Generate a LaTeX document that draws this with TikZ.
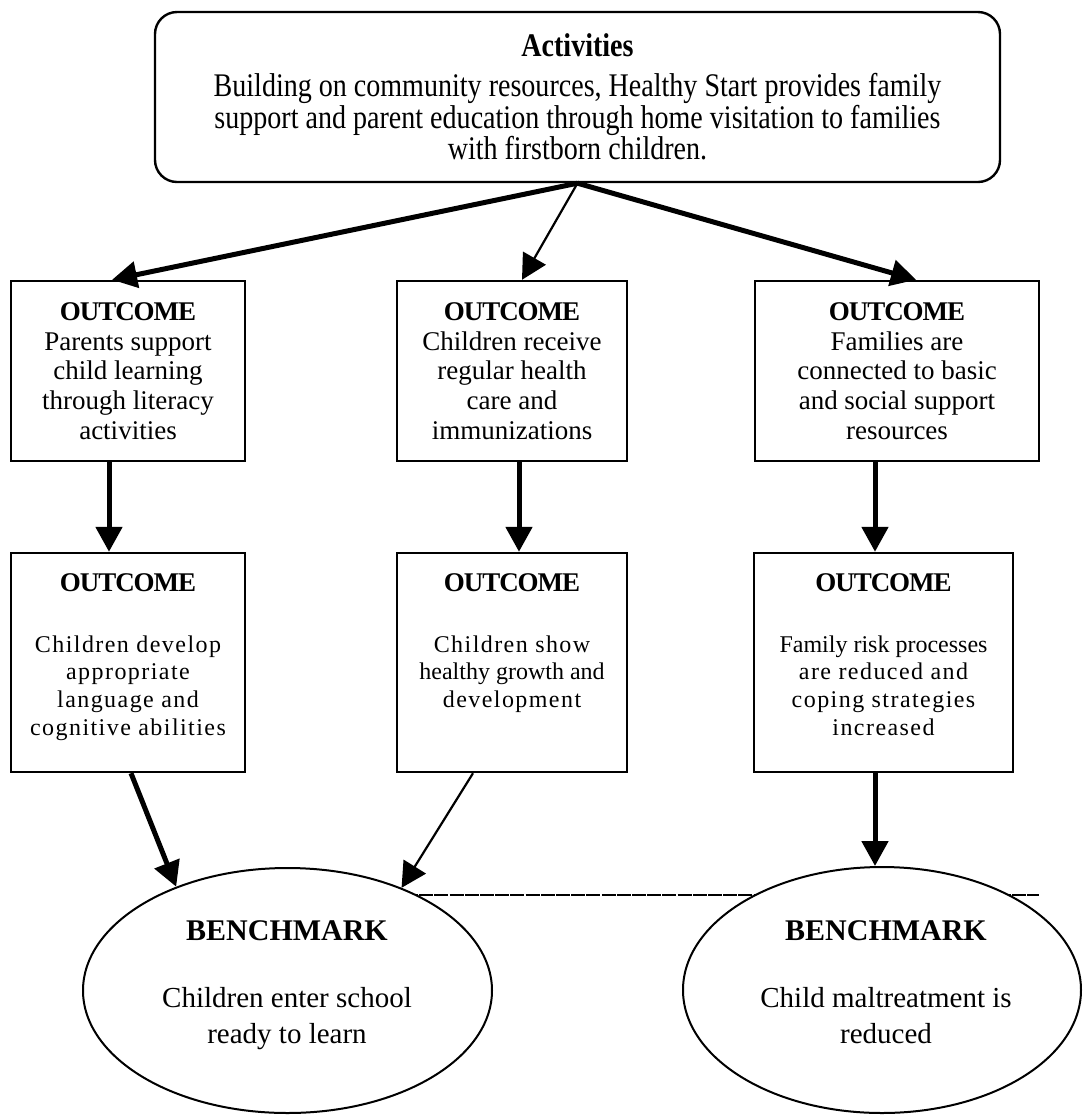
\documentclass[tikz,border=0pt]{standalone}
\usepackage{fontspec}
\setmainfont{Liberation Serif}
\newfontfamily\condfont[FakeStretch=0.85]{Liberation Serif}
\newfontfamily\spfont[LetterSpace=6]{Liberation Serif}
\newcommand\lsp[1]{{\spfont #1}}
\newcommand\hdr[1]{{\fontsize{13.5}{14.8}\selectfont\bfseries\addfontfeature{LetterSpace=-4}#1}}
\usetikzlibrary{arrows.meta,shapes.geometric}
\begin{document}
\begin{tikzpicture}[x=0.5pt,y=-0.5pt,
  topbox/.style={draw,line width=1.2pt,rounded corners=11pt,inner sep=0pt,
    minimum width=422.5pt,minimum height=85pt,align=center,
    font=\condfont\fontsize{16.5}{15.75}\selectfont},
  obox/.style={draw,line width=1.2pt,inner sep=0pt,minimum height=90pt,align=center,
    font=\fontsize{13.5}{14.8}\selectfont},
  pbox/.style={draw,line width=1.2pt,inner sep=0pt,minimum height=109.5pt},
  ptext/.style={anchor=north,inner sep=0pt,align=center,font=\fontsize{12}{13.9}\selectfont},
  bench/.style={ellipse,draw,fill=white,line width=1pt,inner sep=0pt},
  btext/.style={anchor=north,inner sep=0pt,align=center,font=\fontsize{14.5}{18}\selectfont},
  thickarr/.style={line width=2.5pt,-{Triangle[length=12.5pt,width=13pt]}},
  thinarr/.style={line width=1.1pt,-{Triangle[length=12.5pt,width=13pt]}}
]
\useasboundingbox (0,0) rectangle (1083,1115);

% top box
\node[topbox] (act) at (577.5,97) {{\bfseries Activities}\\[4.25pt]
  Building on community resources, Healthy Start provides family\\
  support and parent education through home visitation to families\\
  with firstborn children.};

% outcome row 1
\node[obox,minimum width=117pt] (o1) at (128,371) {\hdr{OUTCOME}\\Parents support\\child learning\\through literacy\\activities};
\node[obox,minimum width=115pt] (o2) at (512,371) {\hdr{OUTCOME}\\Children receive\\regular health\\care and\\immunizations};
\node[obox,minimum width=142pt] (o3) at (897,371) {\hdr{OUTCOME}\\Families are\\connected to basic\\and social support\\resources};

% outcome row 2
\node[pbox,minimum width=117pt] (p1) at (128,662.5) {};
\node[pbox,minimum width=115pt] (p2) at (512,662.5) {};
\node[pbox,minimum width=129.5pt] (p3) at (883.5,662.5) {};
\node[ptext] (p1t) at (128,573) {\hdr{OUTCOME}\\[16.5pt]\lsp{Children develop}\\\lsp{appropriate}\\\lsp{language and}\\\lsp{cognitive abilities}};
\node[ptext] (p2t) at (512,573) {\hdr{OUTCOME}\\[16.5pt]\lsp{Children show}\\healthy growth and\\\lsp{development}};
\node[ptext] (p3t) at (883.5,573) {\hdr{OUTCOME}\\[16.5pt]Family risk processes\\\lsp{are reduced and}\\\lsp{coping strategies}\\\lsp{increased}};

% separator line (underscores)
\coordinate (ulA) at (404,895);
\coordinate (ulB) at (1039,895);
\draw[line width=0.6pt,dash pattern=on 7pt off 0.6pt] (ulA) -- (ulB);

% benchmarks
\node[bench,minimum width=204.5pt,minimum height=122.5pt] (e1) at (287.5,990.5) {};
\node[bench,minimum width=199pt,minimum height=123pt] (e2) at (882,990) {};
\node[btext] (e1t) at (287,920) {{\fontsize{15}{18}\selectfont\bfseries BENCHMARK}\\[15.5pt]Children enter school\\ready to learn};
\node[btext] (e2t) at (886,920) {{\fontsize{15}{18}\selectfont\bfseries BENCHMARK}\\[15.5pt]Child maltreatment is\\reduced};

% connectors
\draw[thickarr] (act.south) -- ([xshift=-8pt]o1.north);
\draw[thinarr]  (act.south) -- ([xshift=5pt]o2.north);
\draw[thickarr] (act.south) -- ([xshift=9.5pt]o3.north);

\draw[thickarr] ([xshift=-9.5pt]o1.south) -- ([xshift=-9.5pt]o1.south |- p1.north);
\draw[thickarr] ([xshift=3.5pt]o2.south) -- ([xshift=3.5pt]o2.south |- p2.north);
\draw[thickarr] ([xshift=-11pt]o3.south) -- ([xshift=-11pt]o3.south |- p3.north);

\draw[thickarr] ([xshift=1.5pt]p1.south) -- (e1.137);
\draw[thinarr]  ([xshift=-19.5pt]p2.south) -- (e1.42);
\draw[thickarr] ([xshift=-4.25pt]p3.south) -- ([xshift=-4.25pt]p3.south |- e2.north);
\end{tikzpicture}
\end{document}
